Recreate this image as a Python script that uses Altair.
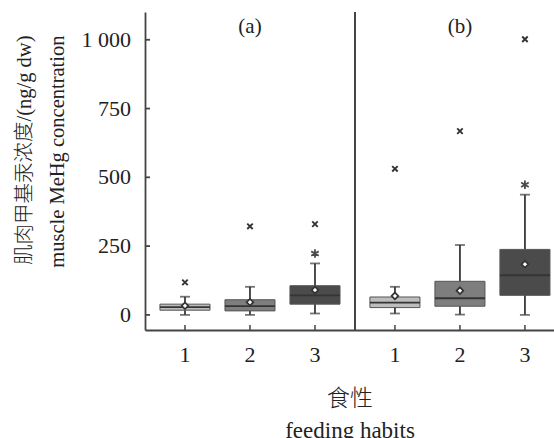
import altair as alt
import pandas as pd

# ---- data ----
panels = ["a", "a", "a", "b", "b", "b"]
habits = [1, 2, 3, 1, 2, 3]
q1 = [17, 14.5, 39, 26.5, 31.5, 71]
median = [28, 31.5, 71, 44.6, 60.5, 144]
q3 = [39, 55, 106, 65, 122, 238]
lo = [0, 0, 5, 5, 1, 0]
hi = [66, 102, 187, 102, 254, 437]
mean = [33, 46, 90, 69, 88, 184]
cross = [118, 322, 330, 531, 668, 1002]
star = [None, None, 223, None, None, 473]

panel_names = ["a", "b"]
panel_labels = ["(a)", "(b)"]
panel_offset = {"a": 0, "b": 3.23}
y_ticks = [0, 250, 500, 750, 1000]
y_tick_labels = ["0", "250", "500", "750", "1 000"]
habit_colors = ["#bdbdbd", "#7e7e7e", "#4b4b4b"]

df = pd.DataFrame({
    "panel": panels, "habit": habits, "q1": q1, "median": median, "q3": q3,
    "lo": lo, "hi": hi, "mean": mean, "cross": cross, "star": star,
})
lab_df = pd.DataFrame({"panel": panel_names, "label": panel_labels, "habit": [2, 2]})
ytick_df = pd.DataFrame({"v": y_ticks, "t": y_tick_labels})

FONT = "Liberation Serif, Noto Sans CJK SC, serif"
AX = "#444444"
TXT = "#222222"
pos_expr = "datum.habit + (datum.panel == 'b' ? %s : %s)" % (panel_offset["b"], panel_offset["a"])

xs = alt.Scale(domain=[0.385, 6.677], nice=False, zero=False)
ys = alt.Scale(domain=[-55, 1101], nice=False, zero=False)
col = alt.Color("habit:O", scale=alt.Scale(domain=[1, 2, 3], range=habit_colors), legend=None)

base = alt.Chart(df).transform_calculate(pos=pos_expr, xl="datum.pos - 0.385", xr="datum.pos + 0.385")

x_axis = alt.Axis(
    labels=False, ticks=False, grid=False, domainColor=AX, domainWidth=1.8,
    title=["食性", "feeding habits"], titleFont=FONT, titleFontSize=23, titleFontWeight=300,
    titleColor=TXT, titleBaseline="top", titleY=57, titleLineHeight=32,
)
y_axis = alt.Axis(
    labels=False, ticks=False, grid=False, domainColor=AX, domainWidth=1.8,
    title=["肌肉甲基汞浓度/(ng/g dw)", "muscle MeHg concentration"], titleFont=FONT,
    titleFontSize=20.5, titleFontWeight=300, titleColor=TXT, titleAngle=270,
    titleAlign="right", titleBaseline="middle", titleX=-121, titleY=23, titleLineHeight=33,
)

whisk = base.mark_rule(color="#3a3a3a", strokeWidth=1.8).encode(
    x=alt.X("pos:Q", scale=xs, axis=x_axis), y=alt.Y("lo:Q", scale=ys, axis=y_axis), y2="hi:Q")
cap_hi = base.mark_tick(orient="horizontal", size=10, thickness=1.8, color="#3a3a3a").encode(
    x="pos:Q", y="hi:Q")
cap_lo = base.mark_tick(orient="horizontal", size=10, thickness=1.8, color="#3a3a3a").encode(
    x="pos:Q", y="lo:Q")
box = base.mark_rect(stroke="#555555", strokeWidth=1).encode(
    x="xl:Q", x2="xr:Q", y="q1:Q", y2="q3:Q", color=col)
med = base.mark_rule(color="#353535", strokeWidth=1.8).encode(x="xl:Q", x2="xr:Q", y="median:Q")
mn = base.mark_point(shape="diamond", filled=True, fill="white", stroke="#333333", strokeWidth=1.7,
                     size=45, opacity=1).encode(x="pos:Q", y="mean:Q")
cx = base.mark_point(shape="M-1,-1L1,1M-1,1L1,-1", filled=False, color="#333333", strokeWidth=1.9,
                     size=30, opacity=1).encode(x="pos:Q", y="cross:Q")
st = base.transform_filter("isValid(datum.star)").mark_point(
    shape="M0,-1L0,1M-0.87,-0.5L0.87,0.5M-0.87,0.5L0.87,-0.5", filled=False, color="#4a4a4a",
    strokeWidth=1.8, size=75, opacity=1).encode(x="pos:Q", y="star:Q")
# inward tick marks
xt = base.mark_rule(color=AX, strokeWidth=1.5).encode(x="pos:Q", y=alt.value(318), y2=alt.value(313))
yt = alt.Chart(ytick_df).mark_rule(color=AX, strokeWidth=1.8).encode(
    y="v:Q", x=alt.value(0), x2=alt.value(5))
# tick labels
xl = base.mark_text(font=FONT, fontSize=22, color=TXT, baseline="middle").encode(
    x="pos:Q", y=alt.value(343), text="habit:N")
yl = alt.Chart(ytick_df).mark_text(font=FONT, fontSize=22, color=TXT, baseline="middle",
                                   align="right").encode(y="v:Q", x=alt.value(-14), text="t:N")
divider = alt.Chart(lab_df).mark_rule(color=AX, strokeWidth=1.8).encode(x=alt.datum(3.615))
labels = alt.Chart(lab_df).transform_calculate(pos=pos_expr).mark_text(
    font=FONT, fontSize=21, color=TXT, baseline="middle").encode(
    x="pos:Q", y=alt.value(15), text="label:N")

chart = alt.layer(whisk, cap_hi, cap_lo, box, med, mn, cx, st, xt, yt, xl, yl, divider, labels).properties(
    width=409, height=318,
    autosize=alt.AutoSizeParams(type="none"),
    padding={"left": 145, "top": 12, "right": 0, "bottom": 108},
    background="white",
).configure_view(stroke=None)

chart.save("out.html", embed_options={"renderer": "svg", "actions": False})
